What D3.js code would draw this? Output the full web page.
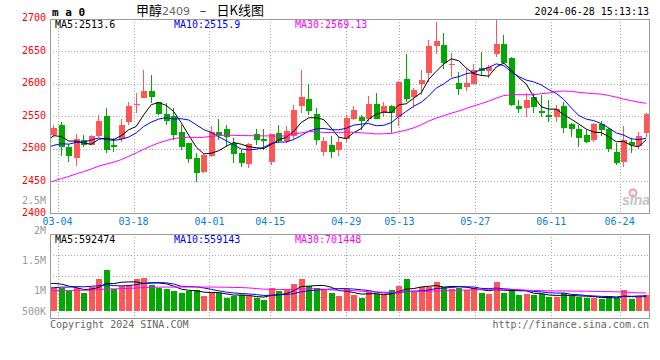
<!DOCTYPE html>
<html><head><meta charset="utf-8">
<script src="https://cdn.jsdelivr.net/npm/d3@7"></script>
<style>body{margin:0;background:#fff}svg{display:block}</style>
</head><body>
<svg id="c" width="660" height="360"></svg>
<script>
// ---------------- data ----------------
const dates = ["03-01","03-04","03-05","03-06","03-07","03-08","03-11","03-12","03-13","03-14","03-15","03-18","03-19","03-20","03-21","03-22","03-25","03-26","03-27","03-28","03-29",
"04-01","04-02","04-03","04-08","04-09","04-10","04-11","04-12","04-15","04-16","04-17","04-18","04-19","04-22","04-23","04-24","04-25","04-26","04-29","04-30",
"05-06","05-07","05-08","05-09","05-10","05-13","05-14","05-15","05-16","05-17","05-20","05-21","05-22","05-23","05-24","05-27","05-28","05-29","05-30","05-31",
"06-03","06-04","06-05","06-06","06-07","06-11","06-12","06-13","06-14","06-17","06-18","06-19","06-20","06-21","06-24","06-25","06-26","06-27","06-28"];
const open = [2521,2536,2503,2485,2513,2506,2519,2550,2505,2514,
2541,2567,2578,2588,2571,2553,2550,2526,2508,2486,
2464,2488,2526,2530,2508,2493,2476,2522,2515,2480,
2524,2512,2519,2565,2576,2553,2495,2505,2498,2514,
2546,2548,2546,2568,2554,2565,2549,2607,2580,2599,
2616,2658,2659,2628,2601,2594,2600,2624,2620,2646,
2661,2640,2565,2563,2579,2557,2551,2549,2565,2538,
2530,2521,2513,2538,2530,2495,2480,2510,2504,2524];
const high = [2536,2541,2507,2523,2521,2521,2552,2562,2516,2545,
2572,2585,2621,2613,2572,2570,2562,2536,2508,2493,
2491,2534,2545,2536,2516,2498,2508,2530,2530,2523,
2536,2534,2567,2621,2600,2562,2518,2519,2518,2551,
2565,2551,2581,2585,2572,2567,2604,2645,2593,2621,
2667,2695,2677,2647,2618,2624,2630,2649,2628,2697,
2675,2641,2575,2585,2585,2582,2575,2567,2572,2540,
2536,2528,2540,2542,2531,2508,2534,2516,2526,2555];
const low = [2517,2489,2480,2473,2502,2505,2518,2493,2495,2510,
2536,2554,2577,2570,2551,2536,2513,2498,2477,2449,
2462,2487,2513,2502,2477,2472,2470,2505,2498,2475,
2508,2508,2513,2554,2552,2505,2488,2486,2488,2510,
2544,2528,2541,2545,2548,2524,2535,2572,2562,2582,
2603,2646,2623,2610,2582,2588,2597,2612,2608,2641,
2630,2565,2554,2548,2555,2548,2541,2541,2524,2518,
2503,2509,2510,2519,2495,2474,2472,2493,2500,2517];
const close = [2531,2503,2489,2515,2505,2520,2542,2498,2503,2536,
2565,2568,2588,2580,2553,2542,2521,2502,2484,2462,
2490,2526,2521,2518,2491,2477,2507,2513,2512,2522,
2512,2527,2559,2580,2558,2513,2512,2494,2510,2547,
2559,2543,2568,2546,2565,2554,2603,2576,2590,2606,
2657,2665,2632,2630,2591,2601,2621,2619,2625,2661,
2631,2567,2561,2575,2564,2554,2549,2561,2532,2530,
2516,2510,2538,2528,2499,2477,2513,2506,2519,2553];
const volume = [884000,910000,793000,910000,702000,949000,1248000,1599000,845000,975000,
1014000,1248000,1287000,1014000,910000,858000,780000,715000,780000,819000,
598000,689000,715000,520000,585000,624000,598000,494000,429000,884000,
780000,806000,1053000,1248000,962000,910000,819000,702000,598000,858000,
624000,520000,754000,650000,624000,806000,975000,1248000,728000,936000,
940000,1125000,940000,850000,915000,810000,890000,695000,655000,1125000,
695000,850000,630000,655000,630000,655000,550000,550000,695000,590000,
560000,500000,495000,480000,592000,494000,819000,468000,559000,624000];
// closes / volumes of the 30 sessions before the first visible one (feed the moving averages)
const priorCloses = [2411,2395,2388,2392,2405,2398,2410,2402,2415,2420,2408,2412,2425,2418,2422,2430,2431,
2455,2468,2472,2485,2478,2496,2488,2502,2486,2510,2524,2515,2519];
const priorVolumes = [760000,820000,760000,690000,720000,810000,680000,740000,790000,700000,730000,760000,690000,810000,720000,
750000,780000,700000,740000,760000,710000,700000,760000,720000,790000,735000,1050000,1180000,1210000,1070000];

const priceTicks = [2700,2650,2600,2550,2500,2450,2400];
const dateTicks = ["03-04","03-18","04-01","04-15","04-29","05-13","05-27","06-11","06-24"];
const volTicks = [2500000,2000000,1500000,1000000,500000];
const volTickLabels = ["2.5M","2M","1.5M","1M","500K"];
const maNames = ["MA5","MA10","MA30"];
const maPeriods = [5,10,30];
const priceMaText = ["2513.6","2515.9","2569.13"];
const volMaText = ["592474","559143","701448"];
const titleParts = ["甲醇","2409"," － ","日K线图"];
const timeStamp = "2024-06-28 15:13:13";

// ---------------- drawing ----------------
const svg = d3.select("#c");
const mono = "'DejaVu Sans Mono', monospace";
const UP = "#ff5656", DOWN = "#00a800";
const maColors = ["#000000","#0000ff","#ff00ff"];
const n = close.length;

const x = d3.scaleBand().domain(d3.range(n)).range([50, 650]);
const cx = i => x.range()[0] + x.step() * (i + 0.5);
const gridX = d3.scaleLinear().domain([0, n - 1]).range([50, 650]);
const y = d3.scaleLinear().domain([2400, 2700]).range([213.5, 18.5]);
const yv = d3.scaleLinear().domain([0, 2500000]).range([311, 247]);
const volLabelY = d3.scaleLinear().domain([1000000, 2500000]).range([290.5, 200.5]);

const main = {x0: 50, x1: 649, y0: 19, y1: 213};
const vol = {x0: 50, x1: 649, y0: 234, y1: 318};

const defs = svg.append("defs");
defs.append("clipPath").attr("id","cm").append("rect")
  .attr("x", main.x0).attr("y", main.y0).attr("width", main.x1-main.x0).attr("height", main.y1-main.y0);
defs.append("clipPath").attr("id","cv").append("rect")
  .attr("x", vol.x0).attr("y", vol.y0).attr("width", vol.x1-vol.x0).attr("height", vol.y1-vol.y0);

const grid = svg.append("g").attr("stroke","#aaa").attr("stroke-dasharray","1,2").attr("shape-rendering","crispEdges");
priceTicks.slice(1, -1).forEach(v => {
  const yy = Math.round(y(v)) + 0.5;
  grid.append("line").attr("x1", main.x0).attr("x2", main.x1).attr("y1", yy).attr("y2", yy);
});
[0.25, 0.5, 0.75].forEach(f => {
  const yy = Math.round(vol.y0 + f * (vol.y1 - vol.y0)) + 0.5;
  grid.append("line").attr("x1", vol.x0).attr("x2", vol.x1).attr("y1", yy).attr("y2", yy);
});
dateTicks.forEach(d => {
  const xx = Math.round(gridX(dates.indexOf(d))) + 0.5;
  grid.append("line").attr("x1", xx).attr("x2", xx).attr("y1", main.y0).attr("y2", main.y1);
  grid.append("line").attr("x1", xx).attr("x2", xx).attr("y1", vol.y0).attr("y2", vol.y1);
});

// candles
const cg = svg.append("g").attr("clip-path","url(#cm)").attr("shape-rendering","crispEdges");
const bw = 6;
d3.range(n).forEach(i => {
  const col = close[i] >= open[i] ? UP : DOWN;
  const xc = Math.floor(cx(i)) + 0.5;
  cg.append("line").attr("x1", xc).attr("x2", xc)
    .attr("y1", y(high[i])).attr("y2", y(low[i])).attr("stroke", col);
  const top = y(Math.max(open[i], close[i])), bot = y(Math.min(open[i], close[i]));
  cg.append("rect").attr("x", Math.floor(cx(i)) - 2.5).attr("width", bw)
    .attr("y", top).attr("height", Math.max(1, bot - top)).attr("fill", col);
});

// moving averages
function movingAvg(values, prior, k) {
  const all = prior.concat(values), off = prior.length;
  return d3.range(-1, values.length).map(i => ({i, v: d3.mean(all.slice(off + i - k + 1, off + i + 1))}));
}
const lg = svg.append("g").attr("clip-path","url(#cm)").attr("fill","none");
maPeriods.forEach((k, j) => {
  lg.append("path").datum(movingAvg(close, priorCloses, k))
    .attr("d", d3.line().x(d => cx(d.i)).y(d => y(d.v)))
    .attr("stroke", maColors[j]).attr("stroke-width", 1);
});

// volume bars
const vg = svg.append("g").attr("clip-path","url(#cv)").attr("shape-rendering","crispEdges");
d3.range(n).forEach(i => {
  const col = close[i] >= open[i] ? UP : DOWN;
  vg.append("rect").attr("x", Math.floor(cx(i)) - 2.5).attr("width", bw)
    .attr("y", yv(volume[i])).attr("height", yv(0) - yv(volume[i])).attr("fill", col);
});
const vlg = svg.append("g").attr("clip-path","url(#cv)").attr("fill","none");
maPeriods.forEach((k, j) => {
  vlg.append("path").datum(movingAvg(volume, priorVolumes, k))
    .attr("d", d3.line().x(d => cx(d.i)).y(d => yv(d.v)))
    .attr("stroke", maColors[j]).attr("stroke-width", 1);
});

// panel borders
const bd = svg.append("g").attr("fill","none").attr("stroke","#999").attr("shape-rendering","crispEdges");
[main, vol].forEach(p => {
  bd.append("rect").attr("x", p.x0 + 0.5).attr("y", p.y0 + 0.5)
    .attr("width", p.x1 - p.x0).attr("height", p.y1 - p.y0);
});

// text
const T = svg.append("g").attr("font-family", mono).attr("font-size", 10);
priceTicks.forEach(v => {
  T.append("text").attr("x", 46).attr("y", Math.max(16, y(v) - 1)).attr("text-anchor","end")
    .attr("dominant-baseline","central").attr("fill","#ff0000").text(v);
});
volTicks.forEach((v, j) => {
  T.append("text").attr("x", 46).attr("y", Math.min(311.5, volLabelY(v))).attr("text-anchor","end")
    .attr("dominant-baseline","central").attr("fill","#999").text(volTickLabels[j]);
});
dateTicks.forEach(d => {
  T.append("text").attr("x", gridX(dates.indexOf(d))).attr("y", 221.5).attr("text-anchor","middle")
    .attr("dominant-baseline","central").attr("fill","#0a80d6").text(d);
});
const legX = [55, 174, 295];
maNames.forEach((m, j) => {
  T.append("text").attr("x", legX[j]).attr("y", 24.5).attr("dominant-baseline","central")
    .attr("fill", maColors[j]).text(m + ":" + priceMaText[j]);
  T.append("text").attr("x", legX[j]).attr("y", 239).attr("dominant-baseline","central")
    .attr("fill", maColors[j]).text(m + ":" + volMaText[j]);
});
T.append("text").attr("x", 52).attr("y", 16).attr("font-size", 11).attr("font-weight","bold")
  .attr("fill","#000").text("m a 0");
T.append("text").attr("x", 649).attr("y", 11.5).attr("text-anchor","end")
  .attr("dominant-baseline","central").attr("fill","#000").text(timeStamp);
const title = svg.append("text").attr("x", 200).attr("y", 15).attr("text-anchor","middle")
  .attr("font-family","'Noto Sans CJK SC', sans-serif").attr("font-size", 13);
title.append("tspan").attr("fill","#000").text(titleParts[0]);
title.append("tspan").attr("fill","#666").attr("font-family","'DejaVu Sans', sans-serif").attr("font-size", 11).text(titleParts[1]);
title.append("tspan").attr("fill","#000").attr("font-family", mono).attr("font-size", 12).attr("xml:space","preserve").text(titleParts[2]);
title.append("tspan").attr("fill","#000").text(titleParts[3]);
T.append("text").attr("x", 50).attr("y", 324).attr("dominant-baseline","central").attr("fill","#666")
  .text("Copyright 2024 SINA.COM");
T.append("text").attr("x", 649).attr("y", 324).attr("text-anchor","end").attr("dominant-baseline","central")
  .attr("fill","#666").text("http://finance.sina.com.cn");
svg.append("circle").attr("cx", 633).attr("cy", 193).attr("r", 3.5).attr("fill","none")
  .attr("stroke","#f4a0a0").attr("stroke-width", 2);
svg.append("text").attr("x", 636).attr("y", 205).attr("text-anchor","middle")
  .attr("font-family","'Liberation Sans', sans-serif").attr("font-size", 14).attr("font-weight","bold")
  .attr("font-style","italic").attr("fill","#c4c4c4").text("sina");
</script>
</body></html>
